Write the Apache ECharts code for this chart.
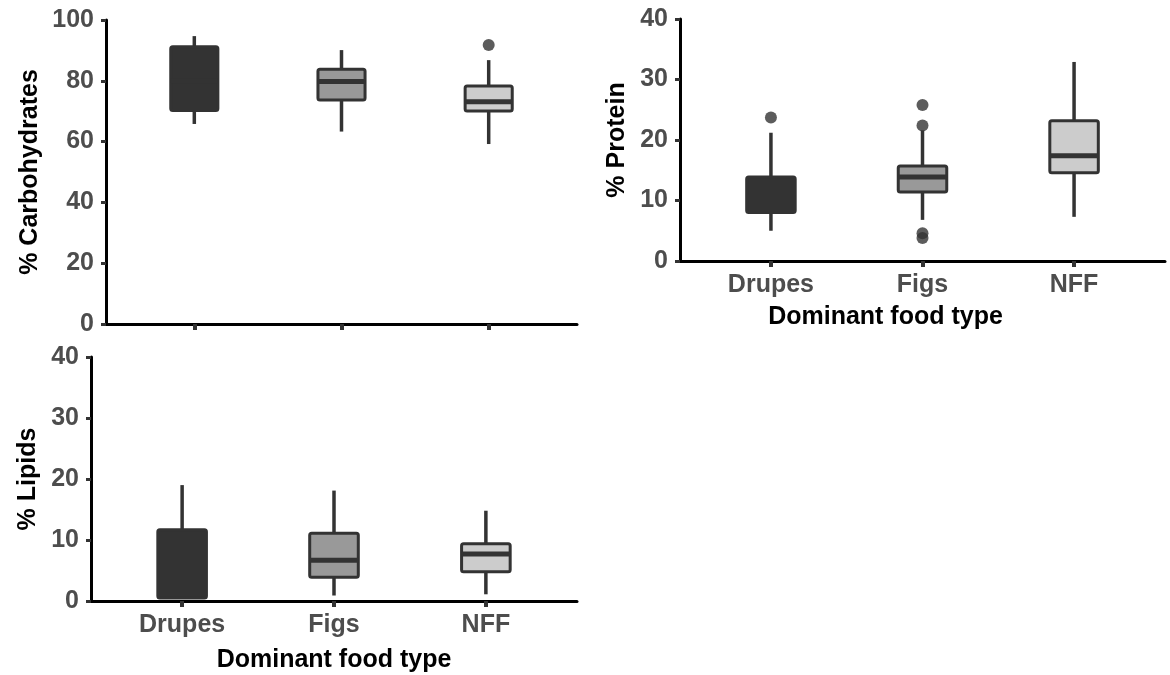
<!DOCTYPE html>
<html>
<head>
<meta charset="utf-8">
<script src="https://cdn.jsdelivr.net/npm/echarts@6/dist/echarts.min.js"></script>
<style>
  html, body { margin: 0; padding: 0; background: #fff; }
  #main { width: 1170px; height: 675px; }
</style>
</head>
<body>
<div id="main"></div>
<script>
var chartDom = document.getElementById('main');
var myChart = echarts.init(chartDom);
var option;

// food type categories (x positions 1, 2, 3)
var categories = ['Drupes', 'Figs', 'NFF'];

// box stats per category: [lower whisker, Q1, median, Q3, upper whisker]
var carbStats = [
    [65.8, 70.2, 80.0, 91.2, 94.7],
    [63.3, 73.7, 79.8, 83.8, 90.1],
    [59.2, 70.1, 73.1, 78.3, 86.8]
];
var carbOutliers = [[], [], [91.8]];

var proteinStats = [
    [5.0, 8.0, 10.5, 13.9, 21.2],
    [6.8, 11.4, 13.9, 15.7, 21.6],
    [7.3, 14.6, 17.4, 23.2, 32.9]
];
var proteinOutliers = [[23.7], [25.8, 22.4, 4.6, 3.8], []];

var lipidStats = [
    [0.4, 0.5, 5.5, 11.7, 19.0],
    [0.9, 3.9, 6.7, 11.1, 18.1],
    [1.1, 4.8, 7.7, 9.4, 14.8]
];
var lipidOutliers = [[], [], []];

// y axis ranges
var carbMax = 100, carbStep = 20;
var otherMax = 40, otherStep = 10;

var fills = ['#333333', '#999999', '#cccccc'];
var ink = '#333333';
var boxWidth = 0.32;
var font = 'Liberation Sans';

function boxData(stats) {
    return stats.map(function (s, i) {
        return [i + 1].concat(s);
    });
}

function outlierData(outs) {
    var res = [];
    outs.forEach(function (list, i) {
        list.forEach(function (v) {
            res.push([i + 1, v]);
        });
    });
    return res;
}

function renderBox(params, api) {
    var x = api.value(0);
    var lo = api.coord([x, api.value(1)]);
    var q1 = api.coord([x, api.value(2)]);
    var med = api.coord([x, api.value(3)]);
    var q3 = api.coord([x, api.value(4)]);
    var hi = api.coord([x, api.value(5)]);
    var half = api.size([boxWidth, 0])[0] / 2;
    return {
        type: 'group',
        children: [
            { type: 'line', shape: { x1: lo[0], y1: lo[1], x2: q1[0], y2: q1[1] },
              style: { stroke: ink, lineWidth: 3.5 } },
            { type: 'line', shape: { x1: q3[0], y1: q3[1], x2: hi[0], y2: hi[1] },
              style: { stroke: ink, lineWidth: 3.5 } },
            { type: 'rect', shape: { x: q3[0] - half, y: q3[1], width: half * 2, height: q1[1] - q3[1], r: 2 },
              style: { fill: fills[params.dataIndex], stroke: ink, lineWidth: 3 } },
            { type: 'line', shape: { x1: med[0] - half, y1: med[1], x2: med[0] + half, y2: med[1] },
              style: { stroke: ink, lineWidth: 5 } }
        ]
    };
}

function makeX(idx, showLabels, gap, shift) {
    return {
        type: 'value',
        gridIndex: idx,
        min: 0.4,
        max: 3.6,
        splitLine: { show: false },
        axisLine: { show: true, onZero: false, lineStyle: { color: '#000', width: 3 } },
        axisTick: { show: true, customValues: [1, 2, 3], length: 6, lineStyle: { color: ink, width: 4 } },
        axisLabel: {
            show: showLabels,
            customValues: [1, 2, 3],
            formatter: function (v) { return categories[Math.round(v) - 1]; },
            margin: 12,
            fontSize: 25,
            fontWeight: 'bold',
            fontFamily: font,
            color: '#4d4d4d'
        },
        name: showLabels ? 'Dominant food type' : '',
        nameLocation: 'middle',
        nameGap: gap,
        nameTextStyle: {
            fontSize: 25, fontWeight: 'bold', fontFamily: font, color: '#000',
            padding: [0, shift, 0, 0]
        }
    };
}

function makeY(idx, max, step, title, gap) {
    return {
        type: 'value',
        gridIndex: idx,
        min: 0,
        max: max,
        interval: step,
        splitLine: { show: false },
        axisLine: { show: true, onZero: false, lineStyle: { color: '#000', width: 3 } },
        axisTick: { show: true, length: 5, lineStyle: { color: ink, width: 3 } },
        axisLabel: {
            margin: 12,
            fontSize: 25,
            fontWeight: 'bold',
            fontFamily: font,
            color: '#4d4d4d'
        },
        name: title,
        nameLocation: 'middle',
        nameGap: gap,
        nameTextStyle: { fontSize: 25, fontWeight: 'bold', fontFamily: font, color: '#000' }
    };
}

function boxSeries(idx, stats) {
    return {
        type: 'custom',
        xAxisIndex: idx,
        yAxisIndex: idx,
        data: boxData(stats),
        renderItem: renderBox,
        encode: { x: 0, y: [1, 2, 3, 4, 5] },
        silent: true
    };
}

function outlierSeries(idx, outs) {
    return {
        type: 'scatter',
        xAxisIndex: idx,
        yAxisIndex: idx,
        data: outlierData(outs),
        symbol: 'circle',
        symbolSize: 12,
        itemStyle: { color: ink },
        silent: true
    };
}

option = {
    backgroundColor: '#ffffff',
    animation: false,
    grid: [
        { left: 106, top: 20, width: 471, height: 304, outerBoundsMode: 'none', containLabel: false },
        { left: 680, top: 19, width: 485, height: 242, outerBoundsMode: 'none', containLabel: false },
        { left: 91, top: 357, width: 486, height: 244, outerBoundsMode: 'none', containLabel: false }
    ],
    xAxis: [makeX(0, false, 44, 0), makeX(1, true, 44, 74), makeX(2, true, 47, 0)],
    yAxis: [
        makeY(0, carbMax, carbStep, '% Carbohydrates', 63),
        makeY(1, otherMax, otherStep, '% Protein', 50),
        makeY(2, otherMax, otherStep, '% Lipids', 50)
    ],
    series: [
        boxSeries(0, carbStats),
        outlierSeries(0, carbOutliers),
        boxSeries(1, proteinStats),
        outlierSeries(1, proteinOutliers),
        boxSeries(2, lipidStats),
        outlierSeries(2, lipidOutliers)
    ]
};

option && myChart.setOption(option);
</script>
</body>
</html>
